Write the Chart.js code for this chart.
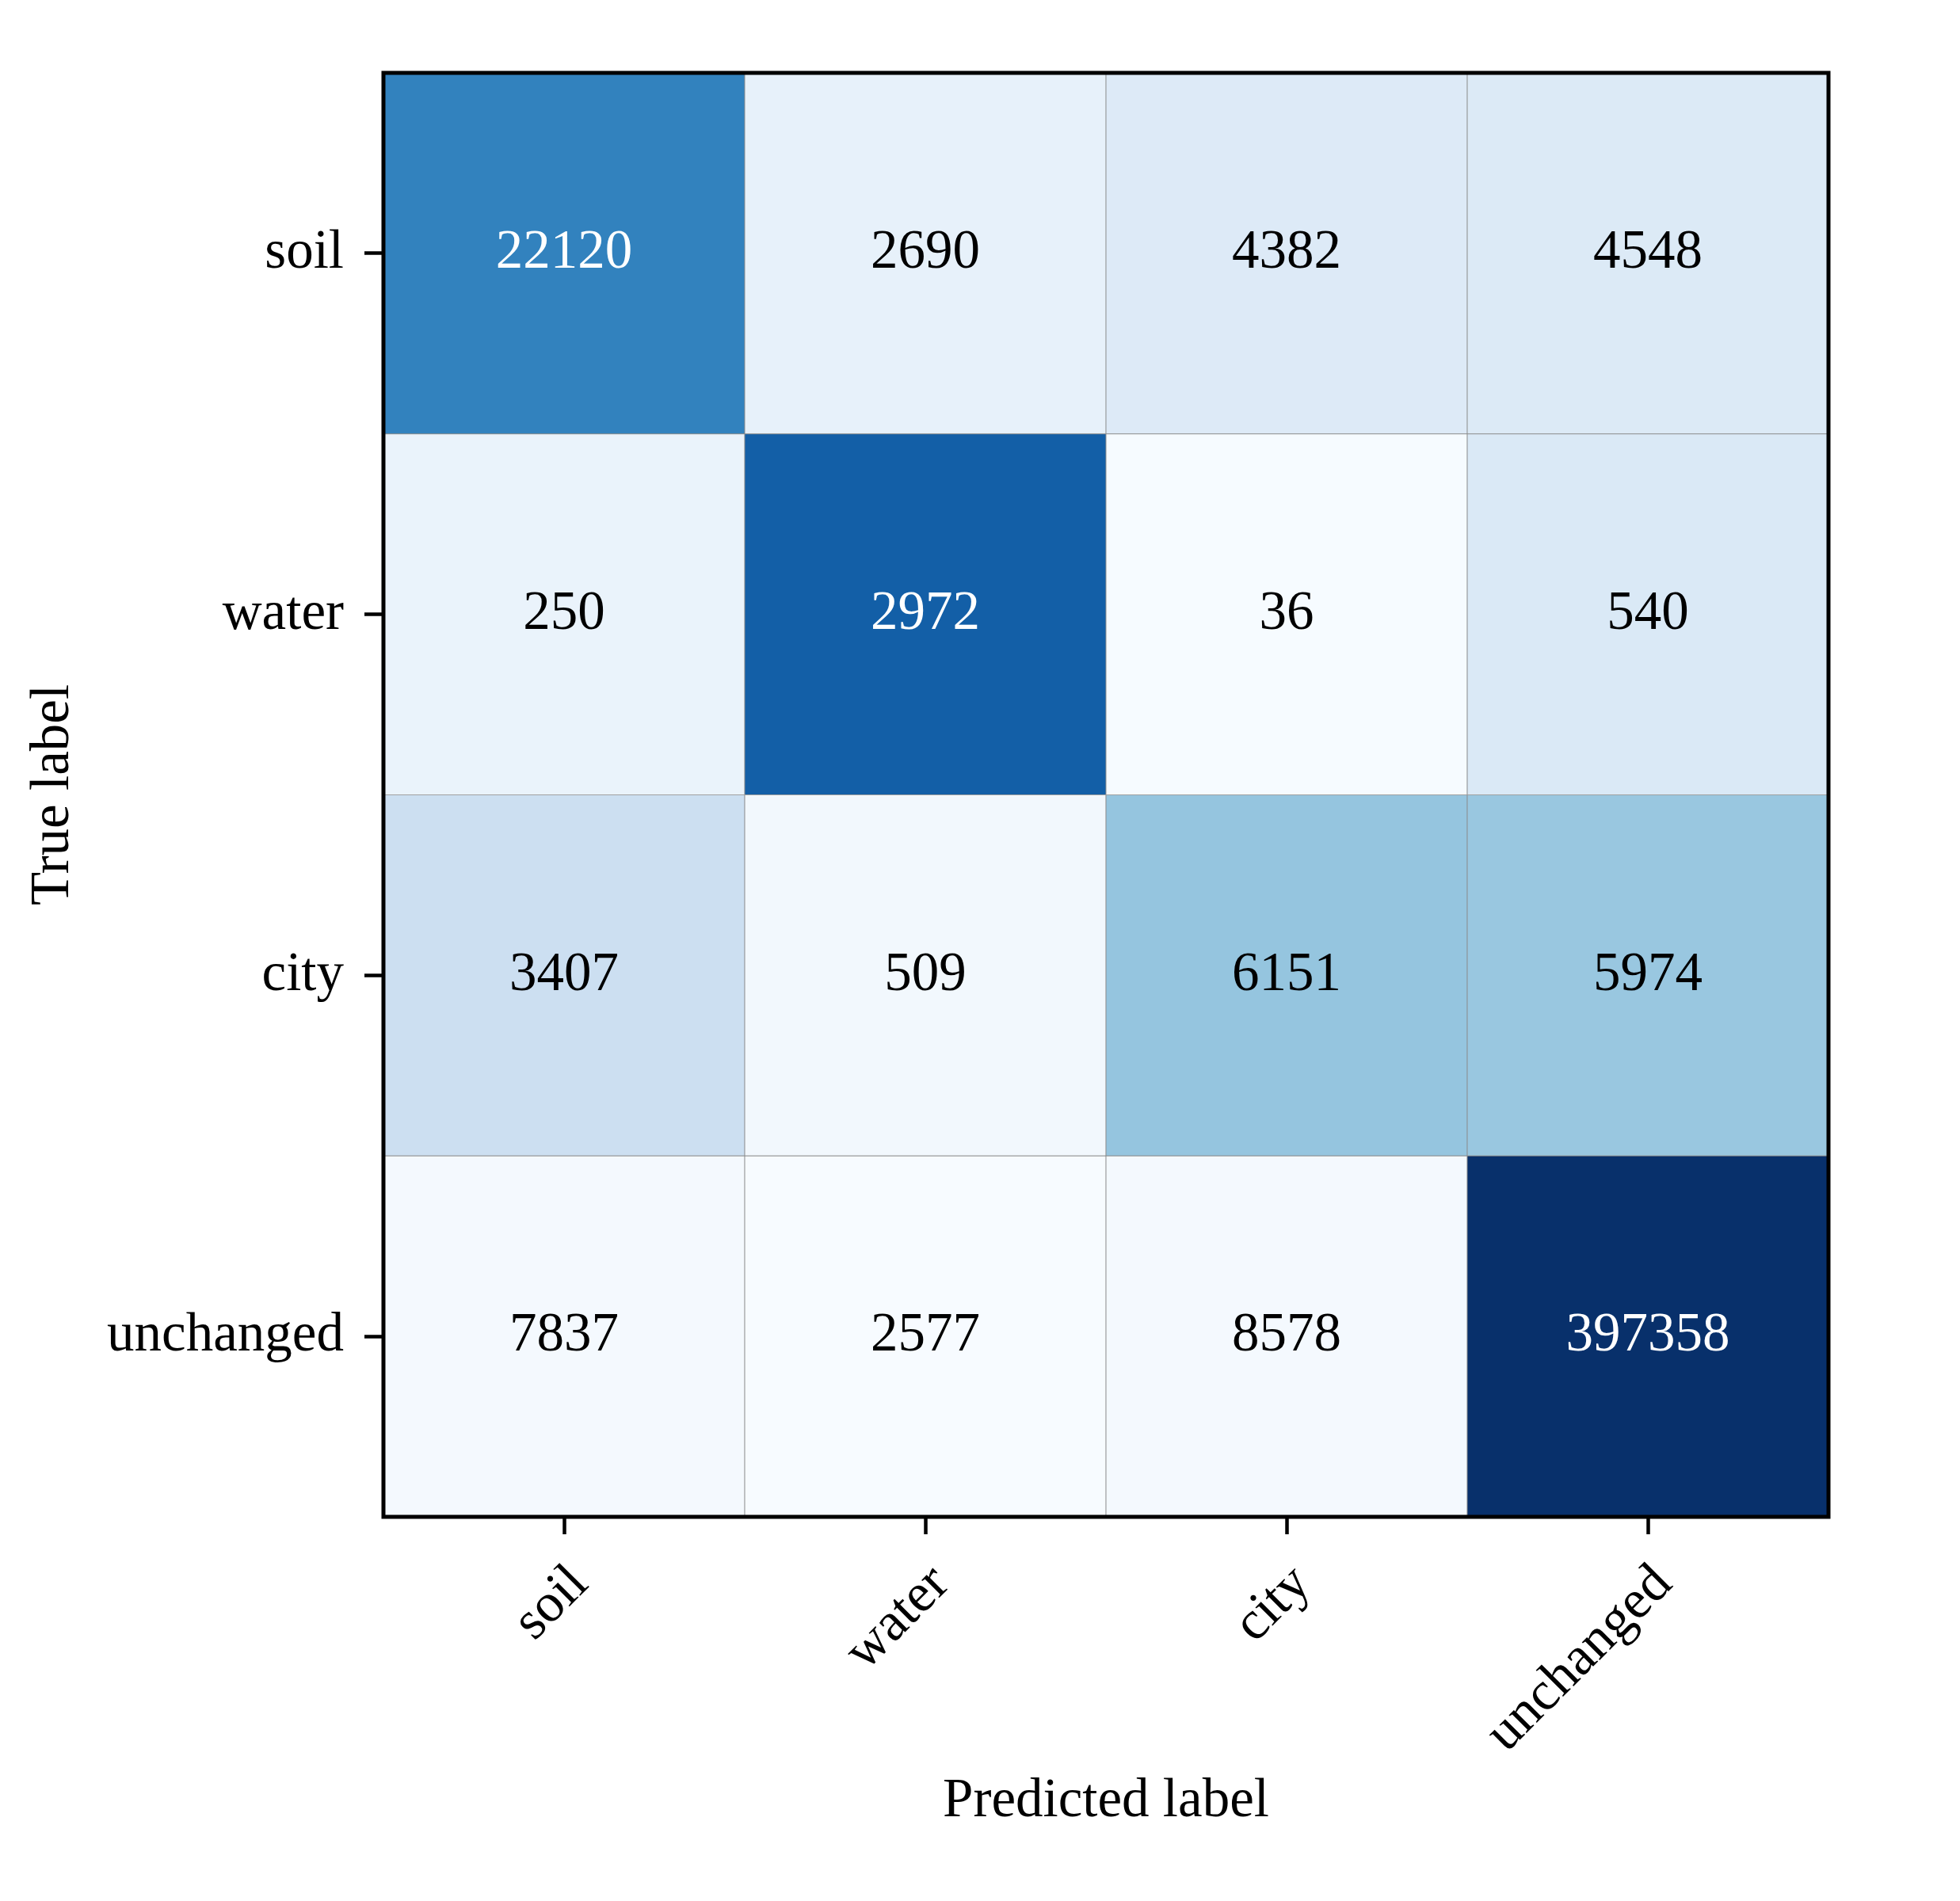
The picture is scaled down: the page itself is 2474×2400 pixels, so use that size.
<!DOCTYPE html>
<html>
<head>
<meta charset="utf-8">
<title>Confusion matrix</title>
<script src="https://cdn.jsdelivr.net/npm/chart.js@4.4.1/dist/chart.umd.min.js"></script>
<style>
  html, body { margin: 0; padding: 0; background: #fff; }
</style>
</head>
<body>
<canvas id="cm" width="2474" height="2400"></canvas>
<script>
// class names, rows = true label, columns = predicted label
const trueLabels = ['soil', 'water', 'city', 'unchanged'];
const predLabels = ['soil', 'water', 'city', 'unchanged'];

const rowSoil = [22120, 2690, 4382, 4548];
const rowWater = [250, 2972, 36, 540];
const rowCity = [3407, 509, 6151, 5974];
const rowUnchanged = [7837, 2577, 8578, 397358];
const counts = [rowSoil, rowWater, rowCity, rowUnchanged];

const xTitle = 'Predicted label';
const yTitle = 'True label';

const FONT = '"Liberation Serif", "Times New Roman", serif';
const FONT_SIZE = 69;

// matplotlib "Blues"
const blues = ['#f7fbff', '#deebf7', '#c6dbef', '#9ecae1', '#6baed6', '#4292c6', '#2171b5', '#08519c', '#08306b'];

function hexToRgb(h) {
  return [1, 3, 5].map(k => parseInt(h.slice(k, k + 2), 16));
}

function bluesAt(t) {
  t = Math.min(1, Math.max(0, t));
  const pos = t * (blues.length - 1);
  const k = Math.min(blues.length - 2, Math.floor(pos));
  const f = pos - k;
  const a = hexToRgb(blues[k]);
  const b = hexToRgb(blues[k + 1]);
  const c = a.map((v, n) => Math.round(v + (b[n] - v) * f));
  return `rgb(${c[0]}, ${c[1]}, ${c[2]})`;
}

// colours come from the row-normalised matrix, like the original
const norm = counts.map(row => {
  const total = row.reduce((s, v) => s + v, 0);
  return row.map(v => v / total);
});
const flat = norm.flat();
const vmin = Math.min(...flat);
const vmax = Math.max(...flat);
const thresh = (vmin + vmax) / 2;

const cellText = {
  id: 'cellText',
  afterDatasetsDraw(chart) {
    const ctx = chart.ctx;
    ctx.save();
    ctx.font = `${FONT_SIZE}px ${FONT}`;
    ctx.textAlign = 'center';
    ctx.textBaseline = 'middle';
    chart.data.datasets.forEach((ds, i) => {
      chart.getDatasetMeta(i).data.forEach((bar, j) => {
        const c = bar.getCenterPoint();
        ctx.fillStyle = norm[i][j] > thresh ? '#ffffff' : '#000000';
        ctx.fillText(String(counts[i][j]), c.x, c.y);
      });
    });
    const a = chart.chartArea;
    ctx.lineWidth = 5;
    ctx.strokeStyle = '#000';
    ctx.strokeRect(a.left, a.top, a.right - a.left, a.bottom - a.top);
    ctx.restore();
  }
};

new Chart(document.getElementById('cm'), {
  type: 'bar',
  data: {
    labels: predLabels,
    datasets: counts.map((row, i) => ({
      label: trueLabels[i],
      data: row.map(() => [i, i + 1]),
      backgroundColor: row.map((v, j) => bluesAt((norm[i][j] - vmin) / (vmax - vmin))),
      borderColor: '#8a8a8a',
      borderWidth: 0.8,
      borderSkipped: false,
      grouped: false,
      barPercentage: 1,
      categoryPercentage: 1,
    }))
  },
  options: {
    responsive: false,
    animation: false,
    devicePixelRatio: 1,
    layout: {
      padding: { top: 92, right: 166, bottom: 0, left: 0 },
    },
    plugins: {
      legend: { display: false },
      tooltip: { enabled: false },
    },
    scales: {
      x: {
        type: 'category',
        offset: true,
        grid: {
          display: true,
          drawOnChartArea: false,
          offset: false,
          tickLength: 22,
          tickWidth: 4.5,
          tickColor: '#000',
        },
        border: { display: false },
        ticks: {
          autoSkip: false,
          minRotation: 45,
          maxRotation: 45,
          padding: 23,
          labelOffset: 20,
          color: '#000',
          font: { family: FONT, size: FONT_SIZE },
        },
        title: {
          display: true,
          text: xTitle,
          color: '#000',
          font: { family: FONT, size: FONT_SIZE },
          padding: { top: 0, bottom: 84 },
        },
        afterFit(scale) {
          scale.height = 485;
          scale.paddingLeft = 0;
          scale.paddingRight = 0;
        },
      },
      y: {
        type: 'linear',
        min: 0,
        max: trueLabels.length,
        reverse: true,
        grid: {
          display: true,
          drawOnChartArea: false,
          tickLength: 24,
          tickWidth: 4.5,
          tickColor: '#000',
        },
        border: { display: false },
        afterBuildTicks(scale) {
          scale.ticks = trueLabels.map((_, i) => ({ value: i + 0.5 }));
        },
        ticks: {
          padding: 26,
          color: '#000',
          font: { family: FONT, size: FONT_SIZE },
          callback: (value, index) => trueLabels[index],
        },
        title: {
          display: true,
          text: yTitle,
          color: '#000',
          font: { family: FONT, size: FONT_SIZE },
          padding: { top: 26, bottom: 0 },
        },
        afterFit(scale) {
          scale.width = 484;
          scale.paddingTop = 0;
          scale.paddingBottom = 0;
        },
      },
    },
  },
  plugins: [cellText],
});
</script>
</body>
</html>
